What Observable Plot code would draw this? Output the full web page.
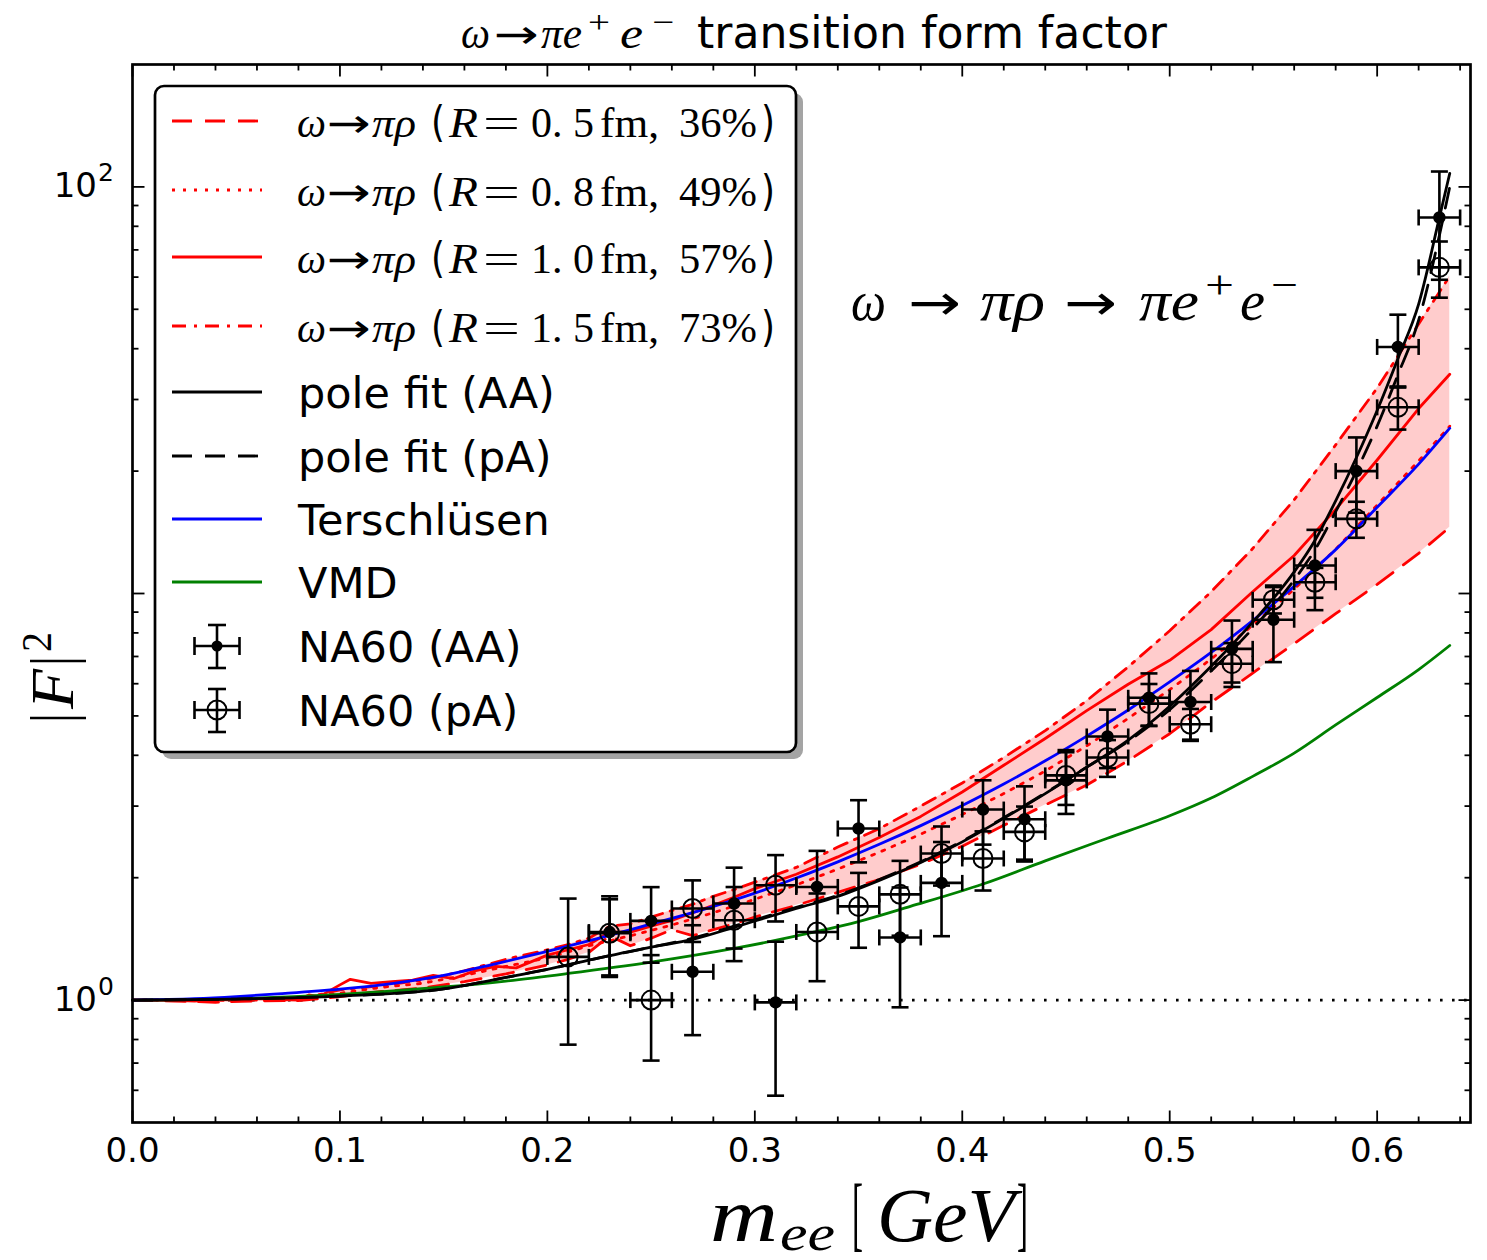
<!DOCTYPE html>
<html><head><meta charset="utf-8">
<script src="https://cdn.jsdelivr.net/npm/d3@7"></script>
<script src="https://cdn.jsdelivr.net/npm/@observablehq/plot@0.6"></script>
<style>body{margin:0;background:#fff}</style>
</head><body><div id="chart"></div>
<script>
// ---------------- axis ticks / labels ----------------
const xTickValues = [0, 0.1, 0.2, 0.3, 0.4, 0.5, 0.6];
const xMinorTicks = [0.02,0.04,0.06,0.08,0.12,0.14,0.16,0.18,0.22,0.24,0.26,0.28,0.32,0.34,0.36,0.38,0.42,0.44,0.46,0.48,0.52,0.54,0.56,0.58,0.62,0.64];
const yLabelTicks = [1, 100];
const yTickBase = ["10", "10"];
const yTickExp = ["0", "2"];
const yMajorTicks = [1, 10, 100];
const yMinorTicks = [0.6,0.7,0.8,0.9,2,3,4,5,6,7,8,9,20,30,40,50,60,70,80,90];

// ---------------- omega -> pi rho model curves ----------------
const bandX = [0,0.02,0.04,0.06,0.08,0.1,0.12,0.14,0.16,0.18,0.2,0.21,0.22,0.23,0.24,0.25,0.26,0.27,0.28,0.29,0.3,0.32,0.34,0.36,0.38,0.4,0.42,0.44,0.46,0.48,0.5,0.52,0.54,0.56,0.58,0.6,0.62,0.635];
const r05Y = [1.0,0.995,0.988,0.996,0.997,1.02,1.05,1.07,1.11,1.16,1.22,1.26,1.31,1.44,1.36,1.42,1.49,1.44,1.49,1.54,1.60,1.71,1.84,1.98,2.16,2.39,2.69,3.02,3.38,3.88,4.52,5.40,6.37,7.53,8.92,10.53,12.55,14.56];
const r15Y = [1.0,1.003,0.997,1.008,1.004,1.06,1.085,1.12,1.18,1.26,1.33,1.37,1.42,1.52,1.54,1.60,1.66,1.72,1.80,1.87,1.95,2.12,2.38,2.64,3.00,3.42,3.95,4.60,5.45,6.60,8.10,10.1,12.9,17.0,23.2,32.0,46.0,60.4];

const r10X = [0,0.02,0.03,0.04,0.05,0.06,0.07,0.08,0.085,0.09,0.1,0.105,0.115,0.125,0.135,0.145,0.155,0.165,0.175,0.185,0.2,0.21,0.22,0.23,0.24,0.25,0.26,0.27,0.28,0.29,0.3,0.32,0.34,0.36,0.38,0.4,0.42,0.44,0.46,0.48,0.5,0.52,0.54,0.56,0.58,0.6,0.62,0.635];
const r10Y = [1.0,0.998,0.994,1.004,1.0,1.008,1.003,1.0,1.03,1.02,1.09,1.125,1.10,1.11,1.12,1.15,1.13,1.18,1.21,1.20,1.29,1.33,1.37,1.47,1.47,1.52,1.57,1.64,1.71,1.79,1.88,2.04,2.25,2.51,2.83,3.25,3.78,4.40,5.15,5.98,6.85,8.15,10.1,12.4,16.1,21.3,28.5,34.6];

const r08X = [0,0.02,0.04,0.05,0.06,0.08,0.1,0.12,0.14,0.16,0.18,0.2,0.22,0.24,0.26,0.28,0.3,0.32,0.34,0.36,0.38,0.4,0.42,0.44,0.46,0.48,0.5,0.52,0.54,0.56,0.58,0.6,0.62,0.635];
const r08Y = [1.0,1.002,1.006,0.996,1.0,1.012,1.04,1.075,1.10,1.15,1.21,1.27,1.36,1.44,1.53,1.64,1.77,1.92,2.10,2.31,2.56,2.86,3.22,3.66,4.22,4.93,5.80,6.90,8.35,10.25,12.85,16.5,21.2,25.8];

// ---------------- other models ----------------
const tersX = [0,0.03,0.05,0.07,0.1,0.125,0.15,0.175,0.2,0.225,0.25,0.275,0.3,0.32,0.34,0.36,0.38,0.4,0.42,0.44,0.46,0.48,0.5,0.52,0.54,0.56,0.58,0.6,0.62,0.635];
const tersY = [1.0,1.008,1.02,1.036,1.064,1.098,1.15,1.228,1.317,1.42,1.539,1.67,1.832,1.996,2.188,2.416,2.686,3.01,3.40,3.877,4.46,5.17,6.06,7.16,8.58,10.41,12.82,16.3,20.8,25.5];

const vmdX = [0,0.05,0.1,0.15,0.18,0.21,0.25,0.29,0.33,0.35,0.375,0.41,0.44,0.47,0.5,0.52,0.54,0.56,0.58,0.6,0.62,0.635];
const vmdY = [1.0,1.008,1.033,1.077,1.114,1.163,1.24,1.34,1.475,1.56,1.70,1.93,2.20,2.50,2.84,3.14,3.55,4.05,4.75,5.55,6.5,7.45];

const poleX   = [0,0.05,0.1,0.15,0.177,0.2,0.225,0.25,0.27,0.29,0.3,0.32,0.34,0.36,0.38,0.4,0.42,0.44,0.46,0.48,0.5,0.52,0.54,0.56,0.57,0.58,0.59,0.6,0.61,0.62,0.63,0.635];
const poleAAY = [1.0,1.006,1.023,1.065,1.13,1.19,1.27,1.35,1.41,1.51,1.565,1.68,1.80,1.97,2.18,2.45,2.80,3.22,3.74,4.36,5.28,6.62,8.50,11.3,13.5,16.9,21.6,28.2,37.8,51.5,84,108];
const polePAY = [1.0,1.006,1.023,1.065,1.13,1.19,1.27,1.35,1.42,1.52,1.575,1.69,1.81,1.98,2.19,2.46,2.81,3.23,3.74,4.33,5.18,6.45,8.2,10.8,12.8,15.9,20.0,25.8,34.5,47.0,76,100];

// ---------------- NA60 data ----------------
const binHalfWidth = 0.01;
const aaX   = [0.23,0.25,0.27,0.29,0.31,0.33,0.35,0.37,0.39,0.41,0.43,0.45,0.47,0.49,0.51,0.53,0.55,0.57,0.59,0.61,0.63];
const aaY   = [1.47,1.566,1.174,1.728,0.987,1.898,2.642,1.426,1.942,2.942,2.785,3.47,4.45,5.54,5.41,7.31,8.62,11.72,20.0,40.4,84.1];
const aaErr = [0.33,0.33,0.354,0.389,0.405,0.43,0.46,0.466,0.506,0.53,0.57,0.6,0.73,0.82,1.04,1.27,1.84,2.62,4.2,8.1,25];
const paX   = [0.21,0.23,0.25,0.27,0.29,0.31,0.33,0.35,0.37,0.39,0.41,0.43,0.45,0.47,0.49,0.51,0.53,0.55,0.57,0.59,0.61,0.63];
const paY   = [1.277,1.46,1.0,1.68,1.572,1.917,1.471,1.70,1.82,2.293,2.23,2.592,3.57,3.95,5.36,4.77,6.72,9.65,10.66,15.26,28.7,63.4];
const paErr = [0.50,0.31,0.29,0.29,0.325,0.356,0.358,0.355,0.38,0.38,0.37,0.4,0.55,0.41,0.63,0.43,0.83,0.72,0.9,1.55,3.4,10];

// ---------------- texts ----------------
const titleText = "transition form factor";
const legendR = ["0. 5", "0. 8", "1. 0", "1. 5"];
const legendPct = ["36%", "49%", "57%", "73%"];
const legendNames = ["pole fit (AA)", "pole fit (pA)", "Terschlüsen", "VMD", "NA60 (AA)", "NA60 (pA)"];

// ---------------- build ----------------
const rows = (xs, ys) => xs.map((x, i) => ({x, y: ys[i]}));
const band = bandX.map((x, i) => ({x, lo: r05Y[i], hi: r15Y[i]}));
const aa = aaX.map((x, i) => ({x, y: aaY[i], e: aaErr[i]}));
const pa = paX.map((x, i) => ({x, y: paY[i], e: paErr[i]}));

const RED = "#ff0000", BLUE = "#0000ff", GREEN = "#008000";
const LW = 2.8;
const DASH = "20,13", DOT = "3,8", DASHDOT = "14,8,3,8";

const tickMark = (dx, dy) => ({draw(ctx) { ctx.moveTo(0, 0); ctx.lineTo(dx, dy); }});
const capH = {draw(ctx) { ctx.moveTo(-8.5, 0); ctx.lineTo(8.5, 0); }};
const capV = {draw(ctx) { ctx.moveTo(0, -8); ctx.lineTo(0, 8); }};
const tk = {stroke: "black", strokeWidth: 1.8, fill: "none"};

function errMarks(data) {
  const st = {stroke: "black", strokeWidth: 2.6};
  return [
    Plot.ruleX(data, {x: "x", y1: d => d.y - d.e, y2: d => d.y + d.e, ...st}),
    Plot.ruleY(data, {y: "y", x1: d => d.x - binHalfWidth, x2: d => d.x + binHalfWidth, ...st}),
    Plot.dot(data, {x: "x", y: d => d.y + d.e, symbol: capH, fill: "none", ...st}),
    Plot.dot(data, {x: "x", y: d => d.y - d.e, symbol: capH, fill: "none", ...st}),
    Plot.dot(data, {x: d => d.x - binHalfWidth, y: "y", symbol: capV, fill: "none", ...st}),
    Plot.dot(data, {x: d => d.x + binHalfWidth, y: "y", symbol: capV, fill: "none", ...st})
  ];
}

const svg = Plot.plot({
  width: 1487, height: 1260,
  marginLeft: 132, marginRight: 17, marginTop: 64, marginBottom: 138,
  style: {fontFamily: "DejaVu Sans, sans-serif", fontSize: "34px", background: "white", color: "black"},
  x: {domain: [0, 0.645], ticks: xTickValues, tickFormat: d3.format(".1f"), tickSize: 0, tickPadding: 15, label: null},
  y: {type: "log", domain: [0.5, 200], axis: null},
  marks: [
    Plot.areaY(band, {x: "x", y1: "lo", y2: "hi", fill: "#ffcccc"}),
    Plot.ruleY([1], {stroke: "black", strokeWidth: 2.6, strokeDasharray: "2.6,9.4"}),
    Plot.line(rows(bandX, r05Y), {x: "x", y: "y", stroke: RED, strokeWidth: LW, strokeDasharray: DASH}),
    Plot.line(rows(r08X, r08Y), {x: "x", y: "y", stroke: RED, strokeWidth: LW, strokeDasharray: DOT}),
    Plot.line(rows(r10X, r10Y), {x: "x", y: "y", stroke: RED, strokeWidth: LW}),
    Plot.line(rows(bandX, r15Y), {x: "x", y: "y", stroke: RED, strokeWidth: LW, strokeDasharray: DASHDOT}),
    Plot.line(rows(vmdX, vmdY), {x: "x", y: "y", stroke: GREEN, strokeWidth: LW, curve: "monotone-x"}),
    Plot.line(rows(tersX, tersY), {x: "x", y: "y", stroke: BLUE, strokeWidth: LW, curve: "monotone-x"}),
    Plot.line(rows(poleX, poleAAY), {x: "x", y: "y", stroke: "black", strokeWidth: LW, curve: "monotone-x"}),
    Plot.line(rows(poleX, polePAY), {x: "x", y: "y", stroke: "black", strokeWidth: LW, curve: "monotone-x", strokeDasharray: DASH}),
    ...errMarks(pa),
    ...errMarks(aa),
    Plot.dot(pa, {x: "x", y: "y", r: 9.5, fill: "none", stroke: "black", strokeWidth: 2}),
    Plot.dot(aa, {x: "x", y: "y", r: 5.5, fill: "black", stroke: "black"}),
    Plot.frame({stroke: "black", strokeWidth: 2.7}),
    Plot.dot(xTickValues, {x: d => d, frameAnchor: "bottom", symbol: tickMark(0, -12), ...tk}),
    Plot.dot(xTickValues, {x: d => d, frameAnchor: "top", symbol: tickMark(0, 12), ...tk}),
    Plot.dot(xMinorTicks, {x: d => d, frameAnchor: "bottom", symbol: tickMark(0, -6), ...tk}),
    Plot.dot(xMinorTicks, {x: d => d, frameAnchor: "top", symbol: tickMark(0, 6), ...tk}),
    Plot.dot(yMajorTicks, {y: d => d, frameAnchor: "left", symbol: tickMark(12, 0), ...tk}),
    Plot.dot(yMajorTicks, {y: d => d, frameAnchor: "right", symbol: tickMark(-12, 0), ...tk}),
    Plot.dot(yMinorTicks, {y: d => d, frameAnchor: "left", symbol: tickMark(6, 0), ...tk}),
    Plot.dot(yMinorTicks, {y: d => d, frameAnchor: "right", symbol: tickMark(-6, 0), ...tk})
  ]
});
document.getElementById("chart").append(svg);

// ---------------- decorations ----------------
const S = d3.select(svg);
const serif = "Liberation Serif, DejaVu Serif, serif";
const sans = "DejaVu Sans, sans-serif";
function put(parent, x, y, str, o) {
  const t = parent.append("text").attr("x", x).attr("y", y)
    .attr("font-size", o.size).attr("font-family", o.family || serif)
    .attr("font-style", o.italic ? "italic" : "normal").attr("fill", "black")
    .attr("text-anchor", o.anchor || "start").text(str);
  if (o.width) t.attr("textLength", o.width).attr("lengthAdjust", "spacingAndGlyphs");
  return t;
}

// y tick labels (10^n) placed with the plot's own y scale
const yScale = svg.scale("y");
yLabelTicks.forEach((v, i) => {
  const py = yScale.apply(v);
  put(S, 97, py + 11, yTickBase[i], {size: 34, family: sans, anchor: "end"});
  put(S, 98, py - 5, yTickExp[i], {size: 25, family: sans});
});

// title
put(S, 461, 48, "ω", {size: 44, italic: true, width: 29});
put(S, 494, 48, "→", {size: 40, family: sans, width: 45});
put(S, 541, 48, "πe", {size: 44, italic: true, width: 41});
put(S, 588, 33, "+", {size: 32, width: 22});
put(S, 620, 48, "e", {size: 44, italic: true, width: 23});
put(S, 652, 33, "−", {size: 32, width: 22});
put(S, 697, 48, titleText, {size: 44, family: sans, width: 470});

// x label
put(S, 710, 1241, "m", {size: 76, italic: true, width: 68});
put(S, 780, 1250, "ee", {size: 50, italic: true, width: 55});
put(S, 852, 1241, "[", {size: 82, width: 11});
put(S, 877, 1241, "GeV", {size: 76, italic: true, width: 138});
put(S, 1017, 1241, "]", {size: 82, width: 11});

// y label
const yl = S.append("g").attr("transform", "translate(73,723) rotate(-90)");
put(yl, 0, 0, "|", {size: 62, width: 10});
put(yl, 14, 0, "F", {size: 62, italic: true, width: 40});
put(yl, 57, 0, "|", {size: 62, width: 10});
put(yl, 71, -22, "2", {size: 42, width: 20});

// annotation
const ay = 320;
put(S, 851, ay, "ω", {size: 56, italic: true, width: 35});
put(S, 908, ay, "→", {size: 50, family: sans, width: 53});
put(S, 980, ay, "πρ", {size: 56, italic: true, width: 65});
put(S, 1064, ay, "→", {size: 50, family: sans, width: 53});
put(S, 1139, ay, "πe", {size: 56, italic: true, width: 60});
put(S, 1205, ay - 22, "+", {size: 40, width: 29});
put(S, 1240, ay, "e", {size: 56, italic: true, width: 25});
put(S, 1271, ay - 22, "−", {size: 40, width: 27});

// legend
const L = S.append("g");
const LX = 155, LY = 86, LWd = 641, LH = 666;
L.append("rect").attr("x", LX + 7).attr("y", LY + 7).attr("width", LWd).attr("height", LH).attr("rx", 9).attr("fill", "#a4a4a4");
L.append("rect").attr("x", LX).attr("y", LY).attr("width", LWd).attr("height", LH).attr("rx", 9)
  .attr("fill", "white").attr("stroke", "black").attr("stroke-width", 2.7);
const rowY = [121, 190, 257, 326, 392, 456, 519, 582, 646, 710];
const lineSpecs = [
  {stroke: RED, dash: DASH}, {stroke: RED, dash: DOT}, {stroke: RED, dash: null}, {stroke: RED, dash: DASHDOT},
  {stroke: "black", dash: null}, {stroke: "black", dash: DASH}, {stroke: BLUE, dash: null}, {stroke: GREEN, dash: null}
];
lineSpecs.forEach((s, i) => {
  const ln = L.append("line").attr("x1", 172).attr("x2", 262).attr("y1", rowY[i]).attr("y2", rowY[i])
    .attr("stroke", s.stroke).attr("stroke-width", LW);
  if (s.dash) ln.attr("stroke-dasharray", s.dash);
});
for (let i = 0; i < 4; i++) {
  const b = rowY[i] + 15.5;
  put(L, 297, b, "ω", {size: 43, italic: true, width: 29});
  put(L, 327, b, "→", {size: 40, family: sans, width: 44});
  put(L, 372, b, "πρ", {size: 43, italic: true, width: 44});
  put(L, 431, b, "(", {size: 43, family: sans, width: 14});
  put(L, 449, b, "R", {size: 43, italic: true, width: 29});
  put(L, 483, b, "=", {size: 43, width: 37});
  put(L, 531, b, legendR[i], {size: 43, width: 63});
  put(L, 600, b, "fm,", {size: 43, width: 59});
  put(L, 679, b, legendPct[i], {size: 43, width: 78});
  put(L, 761, b, ")", {size: 43, family: sans, width: 14});
}
legendNames.forEach((n, j) => {
  put(L, 298, rowY[4 + j] + 15.5, n, {size: 43, family: sans});
});
[8, 9].forEach(i => {
  const y = rowY[i], cx = 217;
  const g = L.append("g").attr("stroke", "black").attr("stroke-width", 2.6).attr("fill", "none");
  g.append("line").attr("x1", cx).attr("x2", cx).attr("y1", y - 21).attr("y2", y + 22);
  g.append("line").attr("x1", cx - 9).attr("x2", cx + 9).attr("y1", y - 21).attr("y2", y - 21);
  g.append("line").attr("x1", cx - 9).attr("x2", cx + 9).attr("y1", y + 22).attr("y2", y + 22);
  g.append("line").attr("x1", cx - 22.5).attr("x2", cx + 22.5).attr("y1", y).attr("y2", y);
  g.append("line").attr("x1", cx - 22.5).attr("x2", cx - 22.5).attr("y1", y - 9).attr("y2", y + 9);
  g.append("line").attr("x1", cx + 22.5).attr("x2", cx + 22.5).attr("y1", y - 9).attr("y2", y + 9);
  if (i === 8) L.append("circle").attr("cx", cx).attr("cy", y).attr("r", 5.5).attr("fill", "black");
  else L.append("circle").attr("cx", cx).attr("cy", y).attr("r", 9.5).attr("fill", "none").attr("stroke", "black").attr("stroke-width", 2);
});
</script></body></html>
